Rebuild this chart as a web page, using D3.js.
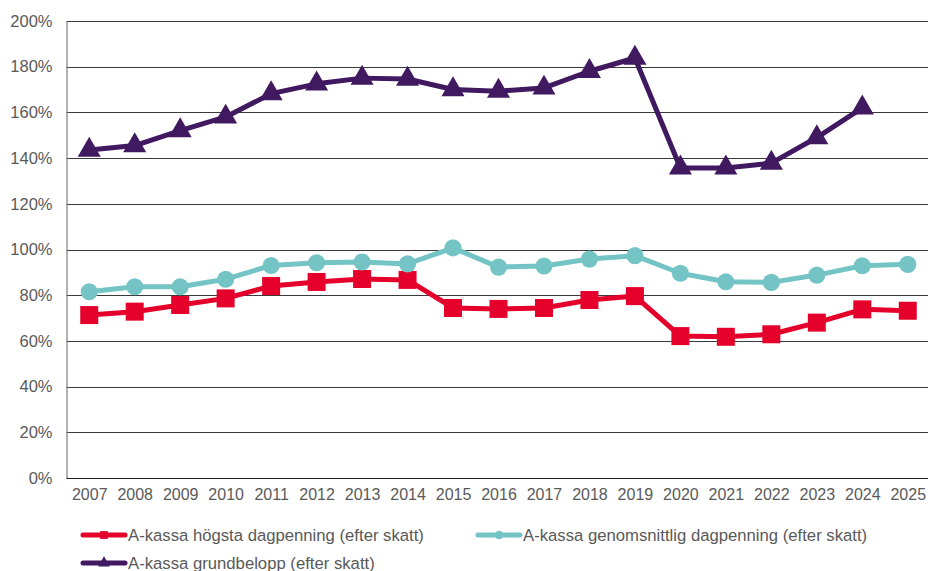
<!DOCTYPE html>
<html lang="sv">
<head>
    <meta charset="UTF-8">
    <title>A-kassa</title>
    <style>
        body { margin: 0; background: #fff; }
        #chart-wrapper { width: 928px; height: 571px; }
        text { font-family: "Liberation Sans", Arial, sans-serif; fill: #595959; }
    </style>
</head>
<body>
    <div id="chart-wrapper"></div>

    <script src="https://d3js.org/d3.v7.min.js"></script>
    <script>
        const years = ['2007', '2008', '2009', '2010', '2011', '2012', '2013', '2014', '2015', '2016',
            '2017', '2018', '2019', '2020', '2021', '2022', '2023', '2024', '2025']
        const hogsta = [71.3, 72.8, 75.7, 78.6, 84, 85.8, 87.1, 86.7, 74.4, 74, 74.4, 77.9, 79.6, 62.1, 61.8, 62.9, 68, 73.8, 73.2]
        const genomsnitt = [81.5, 83.7, 83.7, 87, 93, 94.2, 94.5, 93.7, 100.7, 92.3, 92.8, 95.8, 97.3, 89.6, 85.9, 85.6, 88.8, 92.9, 93.5]
        const grundbelopp = [143.5, 145.5, 152, 158, 168.2, 172.5, 175, 174.6, 170, 169.3, 170.7, 178, 183.8, 135.7, 135.7, 137.8, 149, 162, null]
        const yTicks = [0, 20, 40, 60, 80, 100, 120, 140, 160, 180, 200]

        const series = [
            { name: 'A-kassa högsta dagpenning (efter skatt)', values: hogsta, color: '#e4002b', symbol: d3.symbolSquare, size: 324 },
            { name: 'A-kassa genomsnittlig dagpenning (efter skatt)', values: genomsnitt, color: '#74c4c5', symbol: d3.symbolCircle, size: 230 },
            { name: 'A-kassa grundbelopp (efter skatt)', values: grundbelopp, color: '#401960', symbol: d3.symbolTriangle, size: 230 }
        ]

        const width = 928
        const height = 571
        const plot = { left: 66.5, right: 930.5, top: 21, bottom: 478 }

        const svg = d3.select('#chart-wrapper')
            .append('svg')
            .attr('width', width)
            .attr('height', height)

        const x = d3.scalePoint()
            .domain(years)
            .range([plot.left, plot.right])
            .padding(0.5)

        const y = d3.scaleLinear()
            .domain([0, 200])
            .range([plot.bottom, plot.top])

        // gridlines
        svg.append('g')
            .selectAll('line')
            .data(yTicks.filter(d => d > 0))
            .enter()
            .append('line')
            .attr('x1', plot.left)
            .attr('x2', width)
            .attr('y1', d => Math.round(y(d)) + 0.5)
            .attr('y2', d => Math.round(y(d)) + 0.5)
            .attr('stroke', '#3a3a3a')
            .attr('stroke-width', 1)

        // y axis
        const yAxis = svg.append('g')
            .attr('transform', `translate(${ plot.left }, 0)`)
            .call(d3.axisLeft(y).tickValues(yTicks).tickFormat(d => d + '%').tickSize(0).tickPadding(14))
        yAxis.select('.domain').attr('stroke', '#7f7f7f').attr('stroke-width', 1.2)
        yAxis.selectAll('text').attr('font-size', 16.5).attr('fill', '#595959')
            .style('font-family', '"Liberation Sans", Arial, sans-serif')

        // x axis
        const xAxis = svg.append('g')
            .attr('transform', `translate(0, ${ plot.bottom })`)
            .call(d3.axisBottom(x).tickSize(0).tickPadding(11))
        xAxis.select('.domain').attr('d', `M${ plot.left },0.5H${ width }`).attr('stroke', '#222').attr('stroke-width', 1.2)
        xAxis.selectAll('text').attr('font-size', 16).attr('fill', '#595959')
            .style('font-family', '"Liberation Sans", Arial, sans-serif')

        const line = d3.line()
            .defined(d => d.v !== null)
            .x(d => x(d.year))
            .y(d => y(d.v))

        series.forEach(s => {
            const pts = years.map((year, i) => ({ year, v: s.values[i] }))
            const g = svg.append('g')
            g.append('path')
                .datum(pts)
                .attr('d', line)
                .attr('fill', 'none')
                .attr('stroke', s.color)
                .attr('stroke-width', 5)
                .attr('stroke-linejoin', 'round')
            g.selectAll('path.marker')
                .data(pts.filter(d => d.v !== null))
                .enter()
                .append('path')
                .attr('class', 'marker')
                .attr('d', d3.symbol().type(s.symbol).size(s.size))
                .attr('transform', d => `translate(${ x(d.year) }, ${ y(d.v) })`)
                .attr('fill', s.color)
        })

        // legend
        const legendPos = [[83, 535], [478, 535], [83, 563]]
        series.forEach((s, i) => {
            const [lx, ly] = legendPos[i]
            const g = svg.append('g').attr('transform', `translate(${ lx }, ${ ly })`)
            g.append('line')
                .attr('x1', 0).attr('x2', 42)
                .attr('stroke', s.color).attr('stroke-width', 5).attr('stroke-linecap', 'round')
            g.append('path')
                .attr('d', d3.symbol().type(s.symbol).size(60))
                .attr('transform', 'translate(21, 0)')
                .attr('fill', s.color)
            g.append('text')
                .attr('x', 45)
                .attr('y', 0)
                .attr('dy', '0.35em')
                .attr('font-size', 16.7)
                .text(s.name)
        })
    </script>
</body>
</html>
